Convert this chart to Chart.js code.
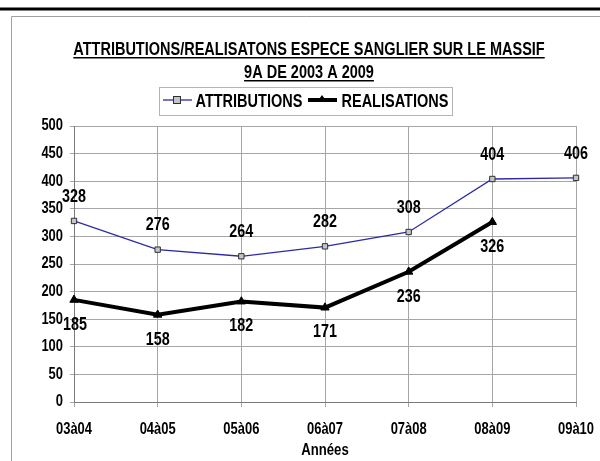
<!DOCTYPE html>
<html>
<head>
<meta charset="utf-8">
<script src="https://cdn.jsdelivr.net/npm/chart.js@4.4.1/dist/chart.umd.min.js"></script>
<style>
  html, body { margin: 0; padding: 0; background: #fff; }
  #wrap { width: 600px; height: 461px; position: relative; }
</style>
</head>
<body>
<div id="wrap"><canvas id="myChart" width="600" height="461"></canvas></div>
<script>
const categories = ['03à04', '04à05', '05à06', '06à07', '07à08', '08à09', '09à10'];
const attributions = [328, 276, 264, 282, 308, 404, 406];
const realisations = [185, 158, 182, 171, 236, 326, null];
const yTicks = [0, 50, 100, 150, 200, 250, 300, 350, 400, 450, 500];
const titleLines = ['ATTRIBUTIONS/REALISATONS ESPECE SANGLIER SUR LE MASSIF', '9A DE 2003 A 2009'];

const FONT = '"Liberation Sans", Arial, sans-serif';
const SQUEEZE = 0.82; // no narrow font installed, so text is squeezed horizontally

const ctx = document.getElementById('myChart').getContext('2d');

// fake a narrow face: every fillText / measureText on this canvas is condensed
const rawFill = CanvasRenderingContext2D.prototype.fillText;
const rawMeasure = CanvasRenderingContext2D.prototype.measureText;
ctx.fillText = function (t, x, y, mw) {
    this.save();
    this.translate(x, y);
    this.scale(SQUEEZE, 1);
    if (mw !== undefined) rawFill.call(this, t, 0, 0, mw / SQUEEZE);
    else rawFill.call(this, t, 0, 0);
    this.restore();
};
ctx.measureText = function (t) {
    const m = rawMeasure.call(this, t);
    return {
        width: m.width * SQUEEZE,
        actualBoundingBoxLeft: m.actualBoundingBoxLeft * SQUEEZE,
        actualBoundingBoxRight: m.actualBoundingBoxRight * SQUEEZE,
        actualBoundingBoxAscent: m.actualBoundingBoxAscent,
        actualBoundingBoxDescent: m.actualBoundingBoxDescent
    };
};

// frame, title and legend drawn around the plot
const decorPlugin = {
    id: 'decor',
    beforeDraw(chart) {
        const c = chart.ctx;
        c.save();
        c.fillStyle = '#000';
        c.fillRect(0, 7.5, 600, 3);
        c.strokeStyle = '#a0a0a0';
        c.lineWidth = 1;
        c.beginPath();
        c.moveTo(11.5, 470);
        c.lineTo(11.5, 16.5);
        c.lineTo(610, 16.5);
        c.stroke();
        c.restore();
    },
    afterDraw(chart) {
        const c = chart.ctx;
        c.save();
        // title, underlined
        c.fillStyle = '#000';
        c.textAlign = 'center';
        c.textBaseline = 'alphabetic';
        c.font = 'bold 17.7px ' + FONT;
        const ys = [55, 78];
        titleLines.forEach((t, i) => {
            c.fillText(t, 309, ys[i]);
            const w = c.measureText(t).width;
            c.fillRect(309 - w / 2, ys[i] + 2, w, 1.5);
        });

        // legend box
        c.strokeStyle = '#b4b4b4';
        c.lineWidth = 1;
        c.strokeRect(159.5, 87.5, 293, 28);
        c.font = 'bold 17.7px ' + FONT;
        c.textAlign = 'left';
        const ds = chart.data.datasets;
        // attributions entry
        c.strokeStyle = ds[0].borderColor;
        c.lineWidth = 1.3;
        c.beginPath(); c.moveTo(163, 100); c.lineTo(192, 100); c.stroke();
        c.fillStyle = ds[0].pointBackgroundColor;
        c.fillRect(173.5, 96.5, 7, 7);
        c.strokeStyle = ds[0].pointBorderColor;
        c.lineWidth = 1;
        c.strokeRect(173.5, 96.5, 7, 7);
        c.fillStyle = '#000';
        c.fillText(ds[0].label, 195.5, 107.3);
        // realisations entry
        c.strokeStyle = '#000';
        c.lineWidth = 4;
        c.beginPath(); c.moveTo(308, 100); c.lineTo(337, 100); c.stroke();
        c.beginPath(); c.moveTo(322, 95); c.lineTo(327, 102); c.lineTo(317, 102); c.closePath();
        c.fillStyle = '#000'; c.fill();
        c.fillText(ds[1].label, 341.5, 107.3);
        c.restore();
    }
};

// value labels: above for attributions, below for realisations
const valueLabels = {
    id: 'valueLabels',
    afterDatasetsDraw(chart) {
        const c = chart.ctx;
        c.save();
        c.font = 'bold 17.5px ' + FONT;
        c.fillStyle = '#000';
        c.textAlign = 'center';
        c.textBaseline = 'middle';
        chart.data.datasets.forEach((ds, i) => {
            const meta = chart.getDatasetMeta(i);
            const dy = i === 0 ? -24 : 25;
            meta.data.forEach((pt, j) => {
                const v = ds.data[j];
                if (v === null || v === undefined) return;
                let dx = 0;
                if (i === 1 && j === 0) dx = 1;
                c.fillText(String(v), pt.x + dx, pt.y + dy);
            });
        });
        c.restore();
    }
};

new Chart(ctx, {
    type: 'line',
    data: {
        labels: categories,
        datasets: [{
            label: 'ATTRIBUTIONS',
            data: attributions,
            borderColor: '#2b2ba6',
            borderWidth: 1.3,
            pointStyle: 'rect',
            pointRadius: 3.8,
            pointBackgroundColor: '#c4c4c4',
            pointBorderColor: '#303030',
            pointBorderWidth: 1,
            tension: 0
        }, {
            label: 'REALISATIONS',
            data: realisations,
            borderColor: '#000',
            borderWidth: 4,
            pointStyle: 'triangle',
            pointRadius: 4.8,
            pointBackgroundColor: '#000',
            pointBorderColor: '#000',
            pointBorderWidth: 1,
            tension: 0,
            spanGaps: false
        }]
    },
    options: {
        responsive: false,
        animation: false,
        layout: { padding: { top: 126, right: 24, left: 0, bottom: 0 } },
        scales: {
            x: {
                offset: false,
                afterFit: s => { s.height = 59; s.paddingLeft = 0; s.paddingRight = 0; },
                grid: { color: '#a6a6a6', tickLength: 5, drawOnChartArea: true },
                border: { color: '#7a7a7a', width: 1 },
                ticks: { color: '#000', font: { family: FONT, size: 15.8, weight: 'bold' }, padding: 13, maxRotation: 0 },
                title: { display: true, text: 'Années', color: '#000', font: { family: FONT, size: 16, weight: 'bold', lineHeight: 1 }, padding: { top: 0, bottom: 2.5 } }
            },
            y: {
                min: 0,
                max: 500,
                afterFit: s => { s.width = 74; },
                afterBuildTicks: s => { s.ticks = yTicks.map(v => ({ value: v })); },
                grid: { color: '#a6a6a6', tickLength: 4 },
                border: { color: '#7a7a7a', width: 1 },
                ticks: { color: '#000', font: { family: FONT, size: 15.8, weight: 'bold' }, padding: 7 }
            }
        },
        plugins: {
            legend: { display: false },
            title: { display: false },
            tooltip: { enabled: false }
        }
    },
    plugins: [decorPlugin, valueLabels]
});
</script>
</body>
</html>
